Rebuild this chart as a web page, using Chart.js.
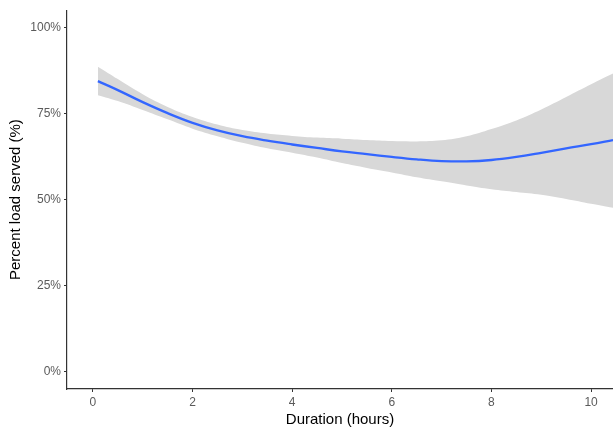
<!DOCTYPE html>
<html>
<head>
<meta charset="utf-8">
<script src="https://cdn.jsdelivr.net/npm/chart.js@4/dist/chart.umd.min.js"></script>
<style>
  html, body { margin: 0; padding: 0; background: #ffffff; }
  #wrap { width: 613px; height: 430px; }
</style>
</head>
<body>
<div id="wrap"><canvas id="c" width="613" height="430"></canvas></div>
<script>
// Duration (hours) sample positions along the smooth fit
const durationHours = [0.1, 0.5, 1, 1.5, 2, 2.5, 3, 3.5, 4, 4.5, 5, 5.5, 6, 6.5, 7, 7.5, 8, 8.5, 9, 9.5, 10, 10.44];
// Smoothed percent load served (%)
const fitPct   = [84.4, 81.8, 78.3, 75.1, 72.3, 70.1, 68.4, 67.1, 66.0, 65.0, 64.0, 63.2, 62.4, 61.7, 61.2, 61.1, 61.5, 62.4, 63.6, 64.9, 66.1, 67.3];
// Confidence band
const upperPct = [88.6, 85.0, 80.6, 76.9, 74.0, 71.8, 70.2, 69.2, 68.5, 68.0, 67.7, 67.3, 67.0, 66.9, 67.2, 68.4, 70.5, 73.0, 76.2, 79.8, 83.5, 86.6];
const lowerPct = [80.3, 78.6, 76.0, 73.3, 70.6, 68.4, 66.5, 64.9, 63.6, 62.2, 60.6, 59.2, 57.9, 56.5, 55.3, 54.1, 53.0, 52.2, 51.4, 50.2, 48.8, 47.6];
// Tick labels
const xTicks = [0, 2, 4, 6, 8, 10];
const yTicks = [0, 25, 50, 75, 100];

const toPts = (ys) => durationHours.map((x, i) => ({ x: x, y: ys[i] }));
const FONT = '"Liberation Sans", Arial, Helvetica, sans-serif';

new Chart(document.getElementById('c'), {
  type: 'line',
  data: {
    datasets: [
      {
        label: 'fit',
        data: toPts(fitPct),
        borderColor: '#3366FF',
        borderWidth: 2.3,
        pointRadius: 0,
        fill: false,
        tension: 0.4
      },
      {
        label: 'upper',
        data: toPts(upperPct),
        borderWidth: 0,
        borderColor: 'rgba(0,0,0,0)',
        pointRadius: 0,
        fill: false,
        tension: 0.4
      },
      {
        label: 'lower',
        data: toPts(lowerPct),
        borderWidth: 0,
        borderColor: 'rgba(0,0,0,0)',
        backgroundColor: 'rgb(216,216,216)',
        pointRadius: 0,
        fill: 1,
        tension: 0.4
      }
    ]
  },
  options: {
    responsive: false,
    animation: false,
    devicePixelRatio: 1,
    layout: { padding: { top: 3, right: 0, left: 0, bottom: 0 } },
    plugins: {
      legend: { display: false },
      tooltip: { enabled: false }
    },
    scales: {
      x: {
        type: 'linear',
        min: -0.52,
        max: 10.44,
        afterBuildTicks: (s) => { s.ticks = xTicks.map(v => ({ value: v })); },
        afterFit: (s) => { s.height = 41; },
        grid: { display: true, drawOnChartArea: false, drawTicks: true, tickLength: 3, color: '#333333', lineWidth: 1 },
        border: { display: true, color: '#333333', width: 1.2 },
        ticks: { color: '#5a5a5a', font: { family: FONT, size: 12 }, padding: 3, maxRotation: 0 },
        title: { display: true, text: 'Duration (hours)', color: '#000000', font: { family: FONT, size: 15 }, padding: { top: 0, bottom: 1 } }
      },
      y: {
        type: 'linear',
        min: -5,
        max: 105,
        afterBuildTicks: (s) => { s.ticks = yTicks.map(v => ({ value: v })); },
        afterFit: (s) => { s.width = 67; },
        grid: { display: true, drawOnChartArea: false, drawTicks: true, tickLength: 3, color: '#333333', lineWidth: 1 },
        border: { display: true, color: '#333333', width: 1.2 },
        ticks: { color: '#5a5a5a', font: { family: FONT, size: 12 }, padding: 3, callback: (v) => v + '%' },
        title: { display: true, text: 'Percent load served (%)', color: '#000000', font: { family: FONT, size: 15 }, padding: { top: 7, bottom: 0 } }
      }
    }
  }
});
</script>
</body>
</html>
